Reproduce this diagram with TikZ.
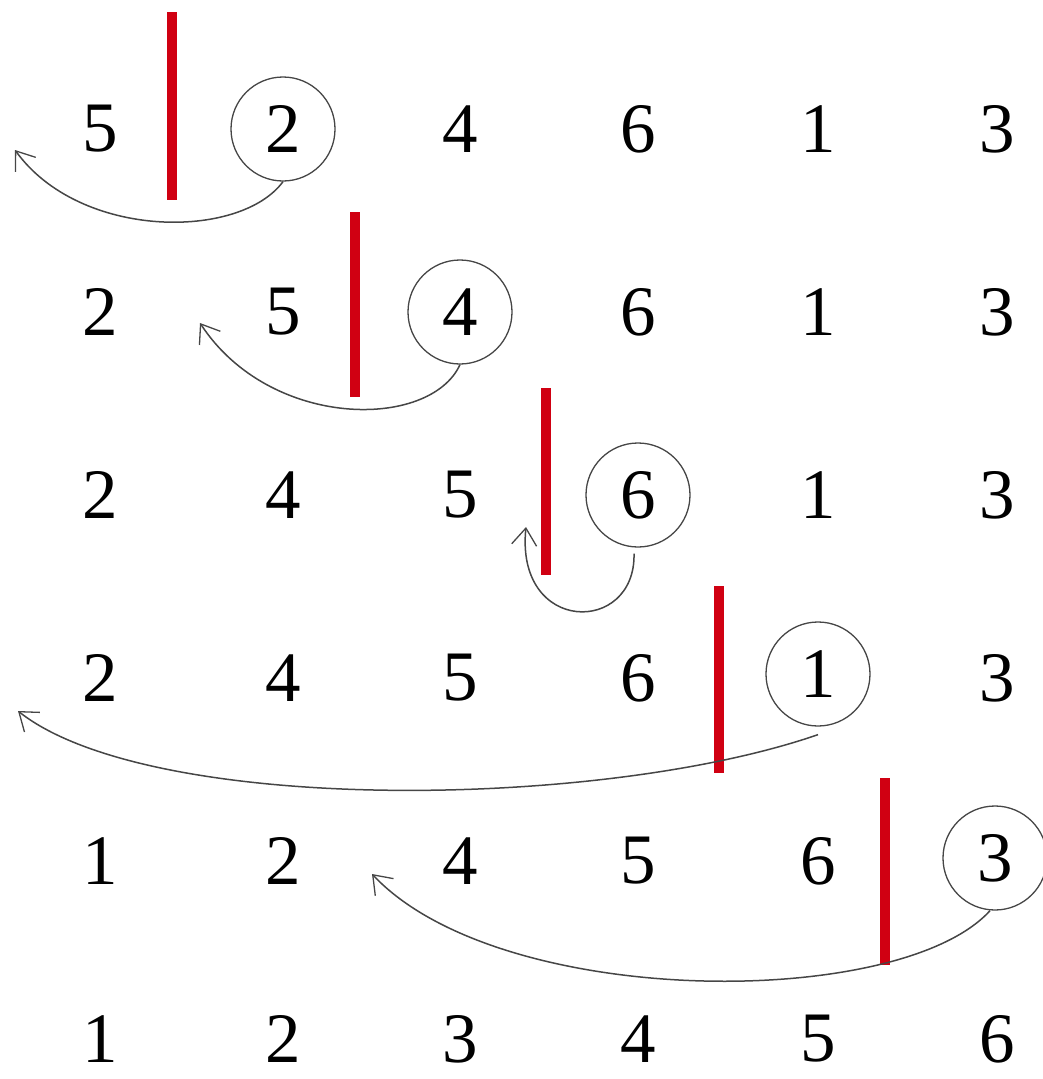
\documentclass[tikz,border=0pt]{standalone}
\usepackage{fontspec}
\setmainfont{Liberation Serif}
\usetikzlibrary{arrows.meta}
\definecolor{barred}{RGB}{208,0,18}
\definecolor{arrowgray}{RGB}{70,70,70}
\tikzset{
  num/.style={inner sep=0pt, font=\fontsize{71}{75}\selectfont},
  ring/.style={num, draw=arrowgray, line width=1.3pt, circle, minimum size=104pt},
  bar/.style={draw=barred, line width=10pt},
  move/.style={draw=arrowgray, line width=1.5pt, -{Straight Barb[length=17pt, width=25pt, line width=1.3pt]}}
}
\begin{document}
\begin{tikzpicture}[x=1pt, y=-1pt]
\useasboundingbox (0,0) rectangle (1042,1079);
% columns
\def\cA{100}\def\cB{283}\def\cC{460}\def\cD{638}\def\cE{818}\def\cF{997}
% row 1
\node[num]  (r1c1) at (\cA,129) {5};
\node[ring] (r1c2) at (\cB,129) {2};
\node[num]  (r1c3) at (\cC,129) {4};
\node[num]  (r1c4) at (\cD,129) {6};
\node[num]  (r1c5) at (\cE,129) {1};
\node[num]  (r1c6) at (\cF,129) {3};
% row 2
\node[num]  (r2c1) at (\cA,312) {2};
\node[num]  (r2c2) at (\cB,312) {5};
\node[ring] (r2c3) at (\cC,312) {4};
\node[num]  (r2c4) at (\cD,312) {6};
\node[num]  (r2c5) at (\cE,312) {1};
\node[num]  (r2c6) at (\cF,312) {3};
% row 3
\node[num]  (r3c1) at (\cA,495) {2};
\node[num]  (r3c2) at (\cB,495) {4};
\node[num]  (r3c3) at (\cC,495) {5};
\node[ring] (r3c4) at (\cD,495) {6};
\node[num]  (r3c5) at (\cE,495) {1};
\node[num]  (r3c6) at (\cF,495) {3};
% row 4
\node[num]  (r4c1) at (\cA,678) {2};
\node[num]  (r4c2) at (\cB,678) {4};
\node[num]  (r4c3) at (\cC,678) {5};
\node[num]  (r4c4) at (\cD,678) {6};
\node[ring] (r4c5) at (\cE,674) {1};
\node[num]  (r4c6) at (\cF,678) {3};
% row 5
\node[num]  (r5c1) at (\cA,861) {1};
\node[num]  (r5c2) at (\cB,861) {2};
\node[num]  (r5c3) at (\cC,861) {4};
\node[num]  (r5c4) at (\cD,861) {5};
\node[num]  (r5c5) at (\cE,861) {6};
\node[ring] (r5c6) at (995,858) {3};
% row 6
\node[num]  (r6c1) at (\cA,1039) {1};
\node[num]  (r6c2) at (\cB,1039) {2};
\node[num]  (r6c3) at (\cC,1039) {3};
\node[num]  (r6c4) at (\cD,1039) {4};
\node[num]  (r6c5) at (\cE,1039) {5};
\node[num]  (r6c6) at (\cF,1039) {6};
% red separators
\draw[bar] (172,12) -- (172,200);
\draw[bar] (355,212) -- (355,397);
\draw[bar] (546,388) -- (546,575);
\draw[bar] (719,586) -- (719,773);
\draw[bar] (885,778) -- (885,965);
% arrow end points
\coordinate (t1) at (15,150);
\coordinate (t2) at (200,323);
\coordinate (t3) at (526,527);
\coordinate (t4) at (18,711);
\coordinate (t5) at (372,874);
% arrows
\draw[move] (r1c2.south) .. controls (240,240) and (80,240) .. (t1);
\draw[move] (r2c3.south) .. controls (430,430) and (270,430) .. (t2);
\draw[move] ([xshift=-4pt,yshift=-6pt]r3c4.south) .. controls (636,635) and (515,635) .. (t3);
\draw[move] ([yshift=-8pt]r4c5.south) .. controls (600,810) and (150,815) .. (t4);
\draw[move] ([xshift=-5pt]r5c6.south) .. controls (900,1010) and (500,1010) .. (t5);
\end{tikzpicture}
\end{document}
